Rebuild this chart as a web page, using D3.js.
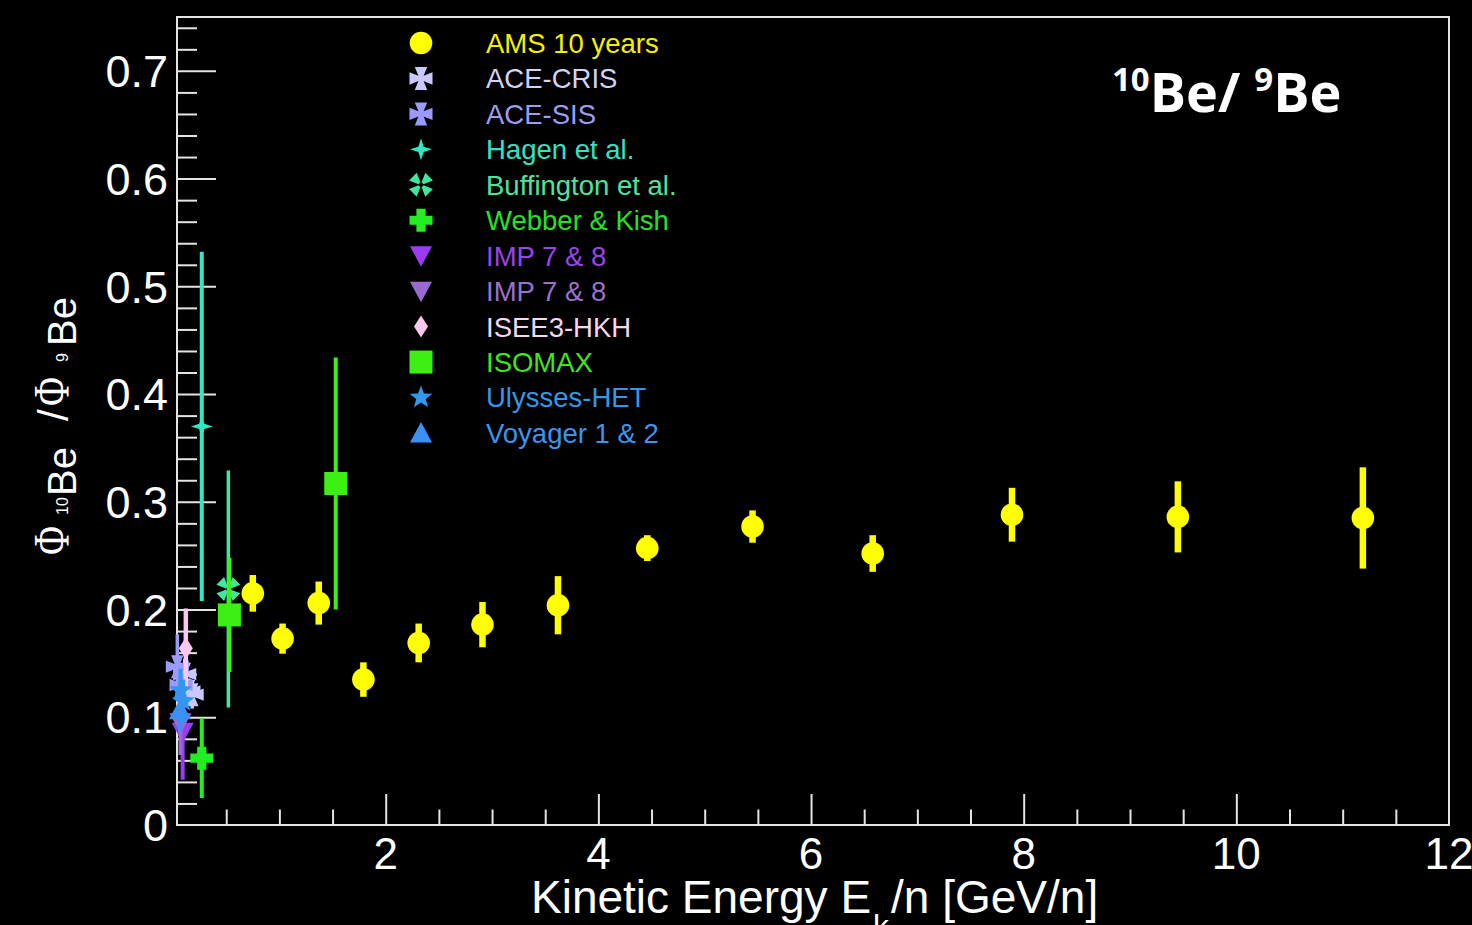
<!DOCTYPE html>
<html>
<head>
<meta charset="utf-8">
<script src="https://cdn.jsdelivr.net/npm/d3@7"></script>
<style>
  html, body { margin: 0; padding: 0; background: #000; }
  svg { display: block; }
</style>
</head>
<body>
<svg id="chart" width="1472" height="925"></svg>
<script>
// ---------- data: 10Be/9Be flux ratio vs kinetic energy per nucleon ----------
const amsEnergy = [0.75, 1.03, 1.37, 1.79, 2.31, 2.91, 3.62, 4.46, 5.45, 6.58, 7.89, 9.45, 11.19];
const amsRatio  = [0.215, 0.173, 0.206, 0.135, 0.169, 0.186, 0.204, 0.257, 0.277, 0.252, 0.288, 0.286, 0.285];
const amsErr    = [0.017, 0.014, 0.020, 0.016, 0.018, 0.021, 0.027, 0.012, 0.015, 0.017, 0.025, 0.033, 0.047];

const aceCrisEnergy = [0.11, 0.15, 0.18];
const aceCrisRatio  = [0.140, 0.124, 0.121];
const aceCrisErr    = [0.014, 0.012, 0.013];

const aceSisEnergy = [0.04, 0.075];
const aceSisRatio  = [0.147, 0.130];
const aceSisErr    = [0.030, 0.020];

const hagenEnergy = [0.27];
const hagenRatio  = [0.370];
const hagenErr    = [0.162];

const buffingtonEnergy = [0.52];
const buffingtonRatio  = [0.219];
const buffingtonErr    = [0.110];

const webberEnergy = [0.27];
const webberRatio  = [0.062];
const webberErr    = [0.037];

const imp1Energy = [0.09];
const imp1Ratio  = [0.086];
const imp1Err    = [0.044];

const imp2Energy = [0.07];
const imp2Ratio  = [0.095];
const imp2Err    = [0.030];

const iseeEnergy = [0.12];
const iseeRatio  = [0.164];
const iseeErr    = [0.037];

const isomaxEnergy = [0.53, 1.53];
const isomaxRatio  = [0.195, 0.317];
const isomaxErr    = [0.053, 0.117];

const ulyssesEnergy = [0.07, 0.095];
const ulyssesRatio  = [0.125, 0.115];
const ulyssesErr    = [0.020, 0.020];

const voyagerEnergy = [0.065];
const voyagerRatio  = [0.107];
const voyagerErr    = [0.020];

const xMajorTicks = [2, 4, 6, 8, 10, 12];
const yMajorTicks = [0, 0.1, 0.2, 0.3, 0.4, 0.5, 0.6, 0.7];
const yTickLabels = ["0", "0.1", "0.2", "0.3", "0.4", "0.5", "0.6", "0.7"];

// ---------- marker shapes ----------
function poly(pts) { return "M" + pts.map(p => p[0].toFixed(2) + "," + p[1].toFixed(2)).join("L") + "Z"; }
function rot(pts, deg) {
  const a = deg * Math.PI / 180, c = Math.cos(a), s = Math.sin(a);
  return pts.map(([x, y]) => [x * c - y * s, x * s + y * c]);
}
const shapes = {
  circle: () => { const r = 11.3; return `M${-r},0A${r},${r} 0 1,0 ${r},0A${r},${r} 0 1,0 ${-r},0Z`; },
  pattee: () => {
    const a = 2.6, b = 6.2, s = 11.5;
    return poly([[-a,-a],[-b,-s],[b,-s],[a,-a],[s,-b],[s,b],[a,a],[b,s],[-b,s],[-a,a],[-s,b],[-s,-b]]);
  },
  star4: () => { const s = 11, w = 2.6; return poly([[0,-s],[w,-w],[s,0],[w,w],[0,s],[-w,w],[-s,0],[-w,-w]]); },
  petals: () => {
    let d = "";
    for (const ang of [45, 135, 225, 315]) d += poly(rot([[-1.4,-2.2],[-5.4,-11.5],[5.4,-11.5],[1.4,-2.2]], ang));
    return d;
  },
  plus: () => { const a = 4.6, s = 11.5; return poly([[-a,-s],[a,-s],[a,-a],[s,-a],[s,a],[a,a],[a,s],[-a,s],[-a,a],[-s,a],[-s,-a],[-a,-a]]); },
  triDown: () => poly([[-11,-9.5],[11,-9.5],[0,11]]),
  triUp: () => poly([[0,-11],[11,9.5],[-11,9.5]]),
  diamond: () => poly([[0,-11],[7,0],[0,11],[-7,0]]),
  square: () => poly([[-11.5,-11.5],[11.5,-11.5],[11.5,11.5],[-11.5,11.5]]),
  star5: () => {
    const pts = [];
    for (let i = 0; i < 10; i++) {
      const r = i % 2 === 0 ? 12 : 5, a = -Math.PI / 2 + i * Math.PI / 5;
      pts.push([r * Math.cos(a), r * Math.sin(a)]);
    }
    return poly(pts);
  }
};

// ---------- series definitions (legend order) ----------
const series = [
  { name: "AMS 10 years",     x: amsEnergy,        y: amsRatio,        e: amsErr,        color: "#ffff00", text: "#f6f000", shape: "circle",  bar: 6.5 },
  { name: "ACE-CRIS",         x: aceCrisEnergy,    y: aceCrisRatio,    e: aceCrisErr,    color: "#c9c9ff", text: "#d2d2f6", shape: "pattee",  bar: 3.5 },
  { name: "ACE-SIS",          x: aceSisEnergy,     y: aceSisRatio,     e: aceSisErr,     color: "#9a9aff", text: "#9c9cf2", shape: "pattee",  bar: 3.5 },
  { name: "Hagen et al.",     x: hagenEnergy,      y: hagenRatio,      e: hagenErr,      color: "#30e8c4", text: "#36e2c4", shape: "star4",   bar: 4 },
  { name: "Buffington et al.",x: buffingtonEnergy, y: buffingtonRatio, e: buffingtonErr, color: "#3ee69e", text: "#4ee4a0", shape: "petals",  bar: 3.5 },
  { name: "Webber & Kish",    x: webberEnergy,     y: webberRatio,     e: webberErr,     color: "#22ee22", text: "#26e226", shape: "plus",    bar: 4 },
  { name: "IMP 7 & 8",        x: imp1Energy,       y: imp1Ratio,       e: imp1Err,       color: "#9a3cf2", text: "#9a44ea", shape: "triDown", bar: 4 },
  { name: "IMP 7 & 8",        x: imp2Energy,       y: imp2Ratio,       e: imp2Err,       color: "#9a6ad2", text: "#9a72cc", shape: "triDown", bar: 4 },
  { name: "ISEE3-HKH",        x: iseeEnergy,       y: iseeRatio,       e: iseeErr,       color: "#f8c8ee", text: "#f6d6f0", shape: "diamond", bar: 4.5 },
  { name: "ISOMAX",           x: isomaxEnergy,     y: isomaxRatio,     e: isomaxErr,     color: "#3cf014", text: "#3ee61a", shape: "square",  bar: 4 },
  { name: "Ulysses-HET",      x: ulyssesEnergy,    y: ulyssesRatio,    e: ulyssesErr,    color: "#2f98f0", text: "#3398e8", shape: "star5",   bar: 4 },
  { name: "Voyager 1 & 2",    x: voyagerEnergy,    y: voyagerRatio,    e: voyagerErr,    color: "#3a90f6", text: "#3a96f0", shape: "triUp",   bar: 4 }
];

// ---------- layout ----------
const svg = d3.select("#chart");
svg.append("rect").attr("width", 1472).attr("height", 925).attr("fill", "#000");

const frame = { left: 177, right: 1449, top: 17, bottom: 825 };
const x = d3.scaleLinear().domain([0.037, 12]).range([frame.left, frame.right]);
const y = d3.scaleLinear().domain([0, 0.75]).range([frame.bottom, frame.top]);

const axisColor = "#e4e4e4";
const sans = "'Liberation Sans', Arial, Helvetica, sans-serif";
const serif = "'Liberation Serif', 'DejaVu Serif', serif";

// frame
svg.append("rect")
  .attr("x", frame.left).attr("y", frame.top)
  .attr("width", frame.right - frame.left).attr("height", frame.bottom - frame.top)
  .attr("fill", "none").attr("stroke", axisColor).attr("stroke-width", 2);

// x axis ticks (pointing up into the frame)
const xAxis = d3.axisBottom(x)
  .tickValues(d3.range(0.5, 12.01, 0.5))
  .tickSizeInner(0).tickSizeOuter(0).tickFormat("");
const gx = svg.append("g").attr("transform", `translate(0,${frame.bottom})`).call(xAxis);
gx.select(".domain").remove();
gx.selectAll(".tick line")
  .attr("y2", d => (Math.abs(d % 2) < 1e-6 ? -31 : -15.5))
  .attr("stroke", axisColor).attr("stroke-width", 2);
gx.selectAll(".tick").filter(d => d >= 11.99).select("line").remove();

svg.append("g").selectAll("text").data(xMajorTicks).join("text")
  .attr("x", d => x(d)).attr("y", 869)
  .attr("text-anchor", "middle")
  .attr("fill", "#fff").style("font-family", sans).style("font-size", "44px")
  .text(d => d);

// y axis ticks (pointing right into the frame)
const yAxis = d3.axisLeft(y)
  .tickValues(d3.range(0, 0.7401, 0.02))
  .tickSizeInner(0).tickSizeOuter(0).tickFormat("");
const gy = svg.append("g").attr("transform", `translate(${frame.left},0)`).call(yAxis);
gy.select(".domain").remove();
gy.selectAll(".tick line")
  .attr("x2", d => (Math.abs(Math.round(d * 100) % 10) === 0 ? 39 : 20))
  .attr("stroke", axisColor).attr("stroke-width", 2);
gy.selectAll(".tick").filter(d => d < 0.001).select("line").remove();

svg.append("g").selectAll("text").data(yMajorTicks).join("text")
  .attr("x", 168).attr("y", d => y(d))
  .attr("dy", "0.36em")
  .attr("text-anchor", "end")
  .attr("fill", "#fff").style("font-family", sans).style("font-size", "45px")
  .text((d, i) => yTickLabels[i]);

// x axis title
const xt = svg.append("text").attr("x", 531).attr("y", 913)
  .attr("fill", "#fff").style("font-family", sans).style("font-size", "46px");
xt.append("tspan").text("Kinetic Energy E");
xt.append("tspan").attr("dx", 2).attr("dy", 24).style("font-size", "32px").text("k");
xt.append("tspan").attr("dx", 2).attr("dy", -24).text("/n [GeV/n]");

// y axis title: Φ_{10Be} / Φ_{9Be}, read bottom to top
const yt = svg.append("g").attr("transform", "translate(68,555) rotate(-90)")
  .attr("fill", "#fff");
const ytParts = [
  { t: "Φ",  at: 0,   base: 0, size: 50, font: serif, len: 29 },
  { t: "10", at: 40,  base: 0, size: 16, font: sans },
  { t: "Be", at: 59,  base: 8, size: 40, font: sans },
  { t: "/",  at: 134, base: 0, size: 42, font: sans },
  { t: "Φ",  at: 149, base: 0, size: 50, font: serif, len: 29 },
  { t: "9",  at: 193, base: 0, size: 16, font: sans },
  { t: "Be", at: 209, base: 8, size: 40, font: sans }
];
ytParts.forEach(p => {
  const el = yt.append("text").attr("x", p.at).attr("y", p.base)
    .style("font-family", p.font).style("font-size", p.size + "px").text(p.t);
  if (p.len) el.attr("textLength", p.len).attr("lengthAdjust", "spacingAndGlyphs");
});

// panel title
const tt = svg.append("text").attr("x", 1112).attr("y", 112)
  .attr("fill", "#fff").style("font-family", "'Open Sans', sans-serif").style("font-weight", 700).style("font-size", "54px");
tt.append("tspan").attr("dy", -21).style("font-size", "33px").text("10");
tt.append("tspan").attr("dy", 21).text("Be/ ");
tt.append("tspan").attr("dy", -21).style("font-size", "33px").text("9");
tt.append("tspan").attr("dy", 21).text("Be");

// ---------- data marks ----------
const marks = svg.append("g");
series.slice(1).concat(series.slice(0, 1)).forEach(s => {
  const pts = s.x.map((xv, i) => ({ xv, yv: s.y[i], ev: s.e[i] }));
  const g = marks.append("g");
  g.selectAll("line").data(pts).join("line")
    .attr("x1", d => x(d.xv)).attr("x2", d => x(d.xv))
    .attr("y1", d => y(d.yv + d.ev)).attr("y2", d => y(Math.max(0, d.yv - d.ev)))
    .attr("stroke", s.color).attr("stroke-width", s.bar);
  g.selectAll("path").data(pts).join("path")
    .attr("transform", d => `translate(${x(d.xv)},${y(d.yv)})`)
    .attr("d", shapes[s.shape]())
    .attr("fill", s.color);
});

// ---------- legend ----------
const legend = svg.append("g");
const rowY = i => 43 + i * 35.45;
series.forEach((s, i) => {
  legend.append("path")
    .attr("transform", `translate(421,${rowY(i)})`)
    .attr("d", shapes[s.shape]())
    .attr("fill", s.color);
  legend.append("text")
    .attr("x", 486).attr("y", rowY(i)).attr("dy", "0.36em")
    .attr("fill", s.text).style("font-family", sans).style("font-size", "27.5px")
    .text(s.name);
});
</script>
</body>
</html>
